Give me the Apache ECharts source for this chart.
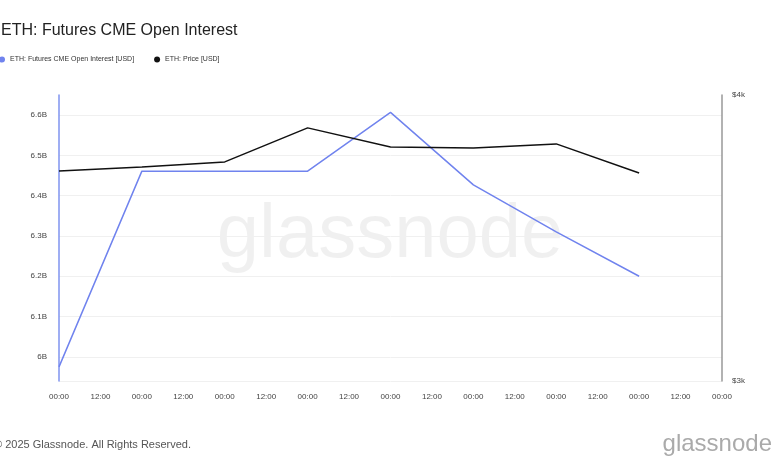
<!DOCTYPE html>
<html><head><meta charset="utf-8">
<script src="https://cdn.jsdelivr.net/npm/echarts@6/dist/echarts.min.js"></script>
<style>html,body{margin:0;padding:0;background:#fff}#c{width:780px;height:470px}</style>
</head><body><div id="c"></div>
<script>
const categories = ["00:00","12:00","00:00","12:00","00:00","12:00","00:00","12:00","00:00","12:00","00:00","12:00","00:00","12:00","00:00","12:00","00:00"];
const openInterest = [5.975e9,null,6.461e9,null,6.461e9,null,6.461e9,null,6.607e9,null,6.427e9,null,6.31e9,null,6.2e9,null,null];
const price = [3734,null,3748,null,3766,null,3885,null,3818,null,3815,null,3829,null,3727,null,null];
const leftTicks = [6e9,6.1e9,6.2e9,6.3e9,6.4e9,6.5e9,6.6e9];
const chart = echarts.init(document.getElementById('c'));
const font = 'Helvetica, Arial, "Liberation Sans", sans-serif';
chart.setOption({
  animation:false,
  textStyle:{fontFamily:font},
  title:{text:'ETH: Futures CME Open Interest',left:-4,top:18,textStyle:{fontSize:16,fontWeight:'normal',color:'#222',fontFamily:font}},
  legend:{left:-6,top:51,itemWidth:6,itemHeight:6,itemGap:20,icon:'circle',textStyle:{fontSize:7,color:'#333'},
    data:['ETH: Futures CME Open Interest [USD]','ETH: Price [USD]']},
  graphic:[
    {type:'text',left:'center',top:198,style:{text:'glassnode',fontSize:76,fill:'rgba(0,0,0,0.06)',fontFamily:font}},
    {type:'text',left:-6,top:439,style:{text:'© 2025 Glassnode. All Rights Reserved.',fontSize:11,fill:'#555',fontFamily:font}},
    {type:'text',right:8,top:432,style:{text:'glassnode',fontSize:24,fill:'#aaa',fontFamily:font}}
  ],
  grid:{left:59,right:58,top:95,bottom:89},
  xAxis:{type:'category',data:categories,boundaryGap:false,
    axisLine:{show:false},axisTick:{show:false},
    axisLabel:{interval:0,fontSize:8,color:'#444',margin:12},splitLine:{show:false}},
  yAxis:[
    {type:'value',min:5.94e9,max:6.65e9,position:'left',
      axisLine:{show:true,lineStyle:{color:'#7f93ef',width:1.5}},axisTick:{show:false},
      splitLine:{show:true,showMaxLine:false,lineStyle:{color:'#f0f0f0'}},
      axisLabel:{fontSize:8,color:'#444',margin:12,customValues:leftTicks,formatter:v=>{const b=v/1e9;return (Math.round(b*10)/10)+'B';}}},
    {type:'value',min:3000,max:4000,interval:1000,position:'right',
      axisLine:{show:true,lineStyle:{color:'#999',width:1.5}},axisTick:{show:false},splitLine:{show:false},
      axisLabel:{fontSize:8,color:'#444',margin:10,formatter:v=>'$'+(v/1000)+'k'}}
  ],
  series:[
    {name:'ETH: Futures CME Open Interest [USD]',type:'line',yAxisIndex:0,data:openInterest,connectNulls:true,
      showSymbol:false,symbol:'circle',itemStyle:{color:'#7083ee'},lineStyle:{color:'#7083ee',width:1.5}},
    {name:'ETH: Price [USD]',type:'line',yAxisIndex:1,data:price,connectNulls:true,
      showSymbol:false,symbol:'circle',itemStyle:{color:'#111'},lineStyle:{color:'#111',width:1.5}}
  ]
});
</script></body></html>
